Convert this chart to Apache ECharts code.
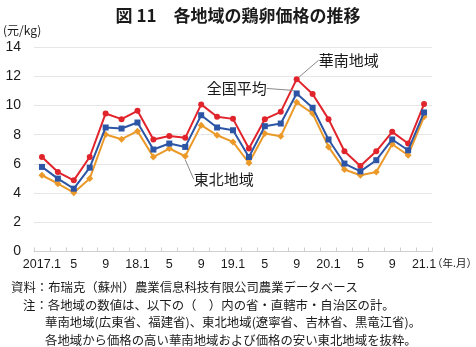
<!DOCTYPE html>
<html>
<head>
<meta charset="utf-8">
<script src="https://cdn.jsdelivr.net/npm/echarts@6/dist/echarts.min.js"></script>
<style>
  html, body { margin: 0; padding: 0; background: #fff; }
  #chart { width: 476px; height: 347px; }
</style>
</head>
<body>
<div id="chart"></div>
<script>
// Bi-monthly egg prices by region (yuan/kg), Jan 2017 – Jan 2021
const periods = [
  '2017.1','2017.3','2017.5','2017.7','2017.9','2017.11',
  '2018.1','2018.3','2018.5','2018.7','2018.9','2018.11',
  '2019.1','2019.3','2019.5','2019.7','2019.9','2019.11',
  '2020.1','2020.3','2020.5','2020.7','2020.9','2020.11',
  '2021.1'
];
const tickLabels = [
  '2017.1','3','5','7','9','11',
  '18.1','3','5','7','9','11',
  '19.1','3','5','7','9','11',
  '20.1','3','5','7','9','11',
  '21.1'
];
const southChina = [6.47,5.44,4.87,6.47,9.45,9.06,9.63,7.67,7.91,7.78,10.07,9.22,9.08,7.05,9.06,9.56,11.80,10.78,9.06,6.86,5.86,6.86,8.19,7.39,10.09];
const nationalAvg = [5.79,4.99,4.30,5.74,8.49,8.42,8.83,6.98,7.39,7.16,9.33,8.49,8.30,6.47,8.58,8.76,10.82,9.84,7.67,6.02,5.49,6.25,7.67,6.93,9.52];
const northeast = [5.22,4.64,4.03,4.99,8.01,7.69,8.24,6.47,7.05,6.52,8.65,7.96,7.50,6.06,8.08,7.89,10.21,9.45,7.16,5.61,5.22,5.44,7.34,6.59,9.22];
const yTicks = { min: 0, max: 14, step: 2 };

const FONT = "'Noto Sans CJK JP', 'Noto Sans', sans-serif";
const NUM_FONT = "'Liberation Sans Narrow', 'Liberation Sans', sans-serif";
const notes = [
  '資料：布瑞克（蘇州）農業信息科技有限公司農業データベース',
  '注：各地域の数値は、以下の（　）内の省・直轄市・自治区の計。',
  '華南地域(広東省、福建省)、東北地域(遼寧省、吉林省、黒竜江省)。',
  '各地域から価格の高い華南地域および価格の安い東北地域を抜粋。'
];

// attach a callout label to one point of a series
function withCallout(values, idx, text, pos) {
  return values.map((v, i) => i === idx
    ? { value: v, label: { show: true, formatter: text, position: pos, distance: 5 } }
    : v);
}

const calloutText = { color: '#1a1a1a', fontSize: 15, fontFamily: FONT };
const leader = { show: true, lineStyle: { color: '#8a8a8a', width: 1 } };
const noteStyle = { fontSize: 12.4, fill: '#1a1a1a', fontFamily: FONT };

const chart = echarts.init(document.getElementById('chart'), null, { renderer: 'canvas' });
chart.setOption({
  animation: false,
  backgroundColor: '#fff',
  textStyle: { fontFamily: FONT },
  title: {
    text: '図 11　各地域の鶏卵価格の推移',
    left: 'center', top: 2,
    textStyle: { fontSize: 17, fontWeight: 'bold', color: '#1a1a1a', fontFamily: FONT }
  },
  grid: { left: 34, right: 44, top: 47, bottom: 95.5 },
  xAxis: {
    type: 'category',
    data: periods,
    boundaryGap: true,
    axisLine: { lineStyle: { color: '#cfcfcf', width: 1 } },
    axisTick: { show: true, interval: 0, inside: true, length: 4, lineStyle: { color: '#cfcfcf' } },
    axisLabel: {
      interval: 1, margin: 7, color: '#1a1a1a', fontSize: 12.5, fontFamily: NUM_FONT,
      formatter: (v, i) => tickLabels[i]
    },
    splitLine: { show: false }
  },
  yAxis: {
    type: 'value',
    min: yTicks.min, max: yTicks.max, interval: yTicks.step,
    axisLine: { show: false },
    axisTick: { show: false },
    axisLabel: { color: '#1a1a1a', fontSize: 14, margin: 13, fontFamily: NUM_FONT },
    splitLine: { lineStyle: { color: '#e6e6e6', width: 1 } }
  },
  graphic: [
    { type: 'text', left: 3, top: 24, style: { text: '(元/kg)', fontSize: 12, fill: '#1a1a1a', fontFamily: FONT } },
    { type: 'text', left: 432, top: 258, style: { text: '（年.月）', fontSize: 10.5, fill: '#1a1a1a', fontFamily: FONT } },
    { type: 'text', left: 11, top: 281, style: Object.assign({ text: notes[0] }, noteStyle) },
    { type: 'text', left: 23, top: 299, style: Object.assign({ text: notes[1] }, noteStyle) },
    { type: 'text', left: 45, top: 316, style: Object.assign({ text: notes[2] }, noteStyle) },
    { type: 'text', left: 45, top: 334, style: Object.assign({ text: notes[3] }, noteStyle) }
  ],
  series: [
    {
      name: '華南地域', type: 'line',
      data: withCallout(southChina, 16, '華南地域', 'right'),
      symbol: 'circle', symbolSize: 6,
      itemStyle: { color: '#e1242c' },
      lineStyle: { color: '#e1242c', width: 2 },
      label: calloutText,
      labelLine: leader,
      labelLayout: { dx: 14, dy: -19 },
      z: 3
    },
    {
      name: '全国平均', type: 'line',
      data: withCallout(nationalAvg, 16, '全国平均', 'left'),
      symbol: 'rect', symbolSize: 6,
      itemStyle: { color: '#2c55a6' },
      lineStyle: { color: '#2c55a6', width: 2 },
      label: calloutText,
      labelLine: leader,
      labelLayout: { dx: -22, dy: -5 },
      z: 4
    },
    {
      name: '東北地域', type: 'line',
      data: withCallout(northeast, 9, '東北地域', 'right'),
      symbol: 'diamond', symbolSize: 7,
      itemStyle: { color: '#eb9a2a' },
      lineStyle: { color: '#eb9a2a', width: 2 },
      label: calloutText,
      labelLine: leader,
      labelLayout: { dx: 0, dy: 23 },
      z: 2
    }
  ]
});
</script>
</body>
</html>
